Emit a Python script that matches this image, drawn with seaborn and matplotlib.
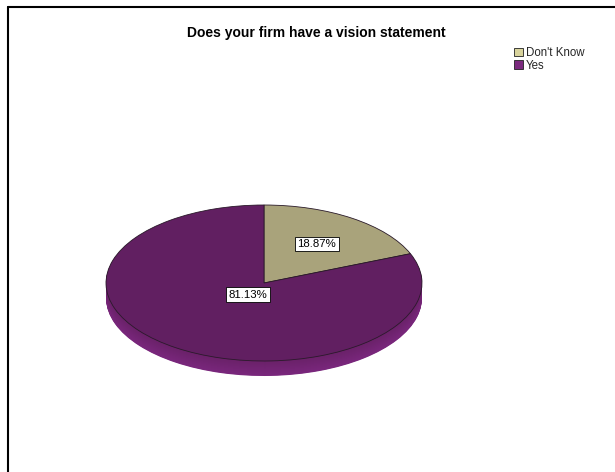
import numpy as np
import matplotlib
matplotlib.use("Agg")
import matplotlib.pyplot as plt
import seaborn as sns
from matplotlib.lines import Line2D
from matplotlib.patches import Patch
from matplotlib.colors import to_rgb

# Survey answers and their shares
categories = ["Don't Know", "Yes"]
percentages = [18.87, 81.13]
title = "Does your firm have a vision statement"

# Slice styling
face_colors = ["#A9A37B", "#611F61"]
side_top_colors = ["#8C8762", "#6A2169"]
side_bottom_colors = ["#8C8762", "#7A277D"]
legend_colors = ["#D8D39C", "#7B2A7E"]
label_radius = [0.6, 0.18]

sns.set_theme(style="white")
plt.rcParams["font.family"] = ["Liberation Sans", "DejaVu Sans"]

W, H = 615, 472
fig = plt.figure(figsize=(W / 100, H / 100), dpi=100)

# Pie geometry in pixels: centre, horizontal/vertical radius, extrusion depth
cx, cy, rx, ry, depth = 264, 283, 158, 78, 15
ytop = 1.0
ylo = -1 - depth / ry - 0.05
bottom_px = cy - ylo * ry
ax = fig.add_axes([(cx - rx) / W, (H - bottom_px) / H,
                   2 * rx / W, (ytop - ylo) * ry / H])

pie_kw = dict(startangle=90, counterclock=False, radius=1)

# Extruded side: stacked copies of the pie shifted downwards
n_layers = 30
for k in range(n_layers, 0, -1):
    t = k / n_layers
    cols = [tuple(np.array(to_rgb(a)) * (1 - t) + np.array(to_rgb(b)) * t)
            for a, b in zip(side_top_colors, side_bottom_colors)]
    ax.pie(percentages, colors=cols, center=(0, -depth / ry * t),
           wedgeprops=dict(linewidth=0, antialiased=True, clip_on=False), **pie_kw)

# Top face
ax.pie(percentages, colors=face_colors, center=(0, 0),
       wedgeprops=dict(linewidth=0.6, edgecolor="#2a1a2a", clip_on=False), **pie_kw)

ax.set_aspect("auto")
ax.set_xlim(-1, 1)
ax.set_ylim(ylo, ytop)
ax.axis("off")

# Percentage labels at each slice's mid angle
start = 90.0
for p, r in zip(percentages, label_radius):
    span = 360.0 * p / 100.0
    mid = np.deg2rad(start - span / 2)
    start -= span
    ax.text(r * np.cos(mid), r * np.sin(mid), f"{p:.2f}%", ha="center", va="center",
            fontsize=8.2, color="black",
            bbox=dict(boxstyle="square,pad=0.2", facecolor="white",
                      edgecolor="black", linewidth=0.6))

fig.text(316 / W, 1 - 33 / H, title, ha="center", va="center",
         fontsize=10, fontweight="bold", color="black")

handles = [Patch(facecolor=c, edgecolor="#222222", linewidth=0.6, label=l)
           for c, l in zip(legend_colors, categories)]
fig.legend(handles=handles, loc="upper left", bbox_to_anchor=(514 / W, 1 - 47 / H),
           fontsize=8.3, frameon=False, handlelength=0.8, handleheight=0.8,
           handletextpad=0.2, labelspacing=0.05, borderpad=0, borderaxespad=0)

# Frame lines along the left and top edges
fig.add_artist(Line2D([8 / W, 8 / W], [0, 1 - 7 / H], color="black", linewidth=1.5,
                      transform=fig.transFigure))
fig.add_artist(Line2D([8 / W, 1], [1 - 7 / H, 1 - 7 / H], color="black", linewidth=1.5,
                      transform=fig.transFigure))

fig.savefig("out.png", dpi=100)
